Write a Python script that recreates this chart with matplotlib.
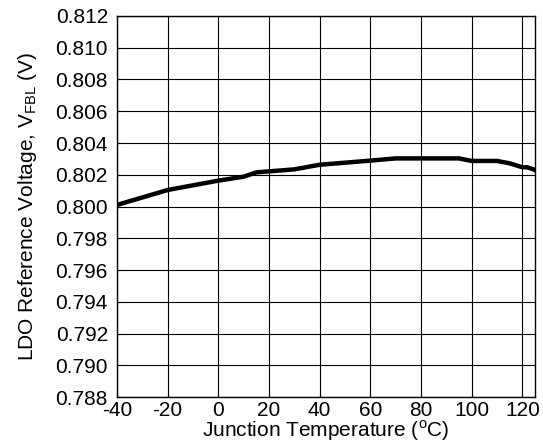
import matplotlib
matplotlib.use("Agg")
import matplotlib.pyplot as plt

plt.rcParams['font.family'] = ['Liberation Sans', 'DejaVu Sans']
plt.rcParams['mathtext.fontset'] = 'custom'
plt.rcParams['mathtext.rm'] = 'Liberation Sans'
plt.rcParams['axes.unicode_minus'] = False

# Junction temperature (C) vs LDO reference voltage (V)
temp = [-40, -20, 0, 10, 15, 30, 40, 60, 70, 80, 95, 100, 110, 115, 120, 122, 125]
vfbl = [0.8001, 0.80104, 0.80163, 0.80188, 0.80215, 0.80234, 0.80263, 0.80289,
        0.80303, 0.80303, 0.80303, 0.80287, 0.80287, 0.80272, 0.80247, 0.80247, 0.8023]

xticks = [-40, -20, 0, 20, 40, 60, 80, 100, 120]
yticks = [0.788 + 0.002 * i for i in range(13)]

fig = plt.figure(figsize=(5.43, 4.48), dpi=100)
ax = fig.add_axes([0.2155, 0.1138, 0.7698, 0.8505])

ax.plot(temp, vfbl, color='black', linewidth=3.2)

ax.set_xlim(-40, 125)
ax.set_ylim(0.788, 0.812)
ax.set_xticks(xticks)
ax.set_yticks(yticks)
ax.set_yticklabels([f"{v:.3f}" for v in yticks])
ax.grid(True, color='black', linewidth=0.8)
ax.tick_params(direction='in', labelsize=15, length=3)
ax.tick_params(axis='y', pad=6.5)
ax.tick_params(axis='x', pad=3)
for s in ax.spines.values():
    s.set_linewidth(1.0)

ax.set_xlabel(r"Junction Temperature ($^{\mathrm{o}}$C)", fontsize=15, labelpad=-1)
ax.set_ylabel(r"LDO Reference Voltage, V$_{\mathrm{FBL}}$ (V)", fontsize=15, labelpad=12)

fig.savefig("out.png", dpi=100)
